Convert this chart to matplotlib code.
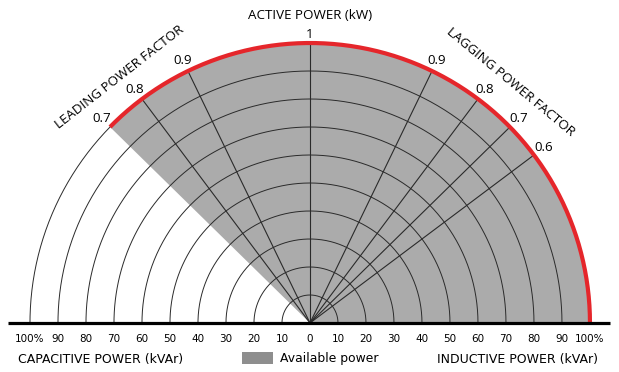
import numpy as np
import matplotlib
matplotlib.use('Agg')
from matplotlib import pyplot as plt
from matplotlib.patches import Polygon, Rectangle

# reactive power rings (percent of rated)
rings = [10, 20, 30, 40, 50, 60, 70, 80, 90, 100]
# power factor lines
leading_pf = [0.9, 0.8]
lagging_pf = [0.9, 0.8, 0.7, 0.6]
leading_labels = ['0.9', '0.8', '0.7']
leading_label_pf = [0.9, 0.8, 0.7]
lagging_labels = ['0.9', '0.8', '0.7', '0.6']
# available region limit on the leading side
leading_limit_pf = 0.7
tick_values = [100, 90, 80, 70, 60, 50, 40, 30, 20, 10, 0, 10, 20, 30, 40, 50, 60, 70, 80, 90, 100]
tick_labels = ['100%', '90', '80', '70', '60', '50', '40', '30', '20', '10', '0',
               '10', '20', '30', '40', '50', '60', '70', '80', '90', '100%']
tick_sides = [-1] * 10 + [0] + [1] * 10

GRAY = '#ababab'
RED = '#e5262b'
LINE = '#2a2a2a'


def main():
    fig = plt.figure(figsize=[6.19, 3.72], dpi=100)
    ax = fig.add_axes([0, 0, 1, 1])
    ax.set_xlim(-110.7, 110.36)
    ax.set_ylim(-17.5, 115.36)
    ax.set_aspect('equal')
    ax.axis('off')

    lim = np.pi / 2 + np.arccos(leading_limit_pf)
    t = np.linspace(0, lim, 300)
    R = rings[-1]

    # available power area
    pts = [(0, 0)] + list(zip(R * np.cos(t), R * np.sin(t)))
    ax.add_patch(Polygon(pts, closed=True, facecolor=GRAY, edgecolor='none', zorder=1))

    # rings
    tt = np.linspace(0, np.pi, 400)
    for r in rings:
        ax.plot(r * np.cos(tt), r * np.sin(tt), color=LINE, lw=0.7, zorder=2)

    # power factor lines
    ax.plot([0, 0], [0, R], color=LINE, lw=0.8, zorder=2)
    for pf in leading_pf:
        a = np.pi / 2 + np.arccos(pf)
        ax.plot([0, R * np.cos(a)], [0, R * np.sin(a)], color=LINE, lw=0.8, zorder=2)
    for pf in lagging_pf:
        a = np.pi / 2 - np.arccos(pf)
        ax.plot([0, R * np.cos(a)], [0, R * np.sin(a)], color=LINE, lw=0.8, zorder=2)

    # red limit arc
    ax.plot(R * np.cos(t), R * np.sin(t), color=RED, lw=3.0, zorder=3, solid_capstyle='butt')

    # baseline
    ax.plot([-107.9, 107.1], [0, 0], color='black', lw=2.3, zorder=4, solid_capstyle='butt')

    fs = 9.6
    lr = 104.2
    for lab, pf in zip(leading_labels, leading_label_pf):
        a = np.pi / 2 + np.arccos(pf)
        ax.text(lr * np.cos(a), lr * np.sin(a), lab, ha='center', va='center', fontsize=fs,
                family='Open Sans')
    for lab, pf in zip(lagging_labels, lagging_pf):
        a = np.pi / 2 - np.arccos(pf)
        ax.text(lr * np.cos(a), lr * np.sin(a), lab, ha='center', va='center', fontsize=fs,
                family='Open Sans')
    ax.text(0, 103.2, '1', ha='center', va='center', fontsize=fs, family='Open Sans')
    ax.text(0, 110, 'ACTIVE POWER (kW)', ha='center', va='center', fontsize=fs, family='Open Sans')

    a = np.deg2rad(90 + 37.7)
    ax.text(111 * np.cos(a), 111 * np.sin(a), 'LEADING POWER FACTOR', ha='center', va='center',
            rotation=38, fontsize=fs, family='Open Sans', rotation_mode='anchor')
    a = np.deg2rad(90 - 39.7)
    ax.text(112 * np.cos(a), 112 * np.sin(a), 'LAGGING POWER FACTOR', ha='center', va='center',
            rotation=-39.7, fontsize=fs, family='Open Sans', rotation_mode='anchor')

    # reactive power ticks
    for v, lab, s in zip(tick_values, tick_labels, tick_sides):
        x = s * v if s else 0
        ax.text(x, -5.6, lab, ha='center', va='center', fontsize=7.5, family='DejaVu Sans')

    ax.text(-104.3, -13.0, 'CAPACITIVE POWER (kVAr)', ha='left', va='center', fontsize=9.0,
            family='DejaVu Sans')
    ax.text(102.9, -13.0, 'INDUCTIVE POWER (kVAr)', ha='right', va='center', fontsize=9.0,
            family='DejaVu Sans')
    ax.add_patch(Rectangle((-24.3, -14.6), 11.1, 4.3, facecolor='#8e8e8e', edgecolor='none'))
    ax.text(-10.7, -12.6, 'Available power', ha='left', va='center', fontsize=8.9,
            family='DejaVu Sans')

    fig.savefig('out.png', dpi=100)


if __name__ == '__main__':
    main()
